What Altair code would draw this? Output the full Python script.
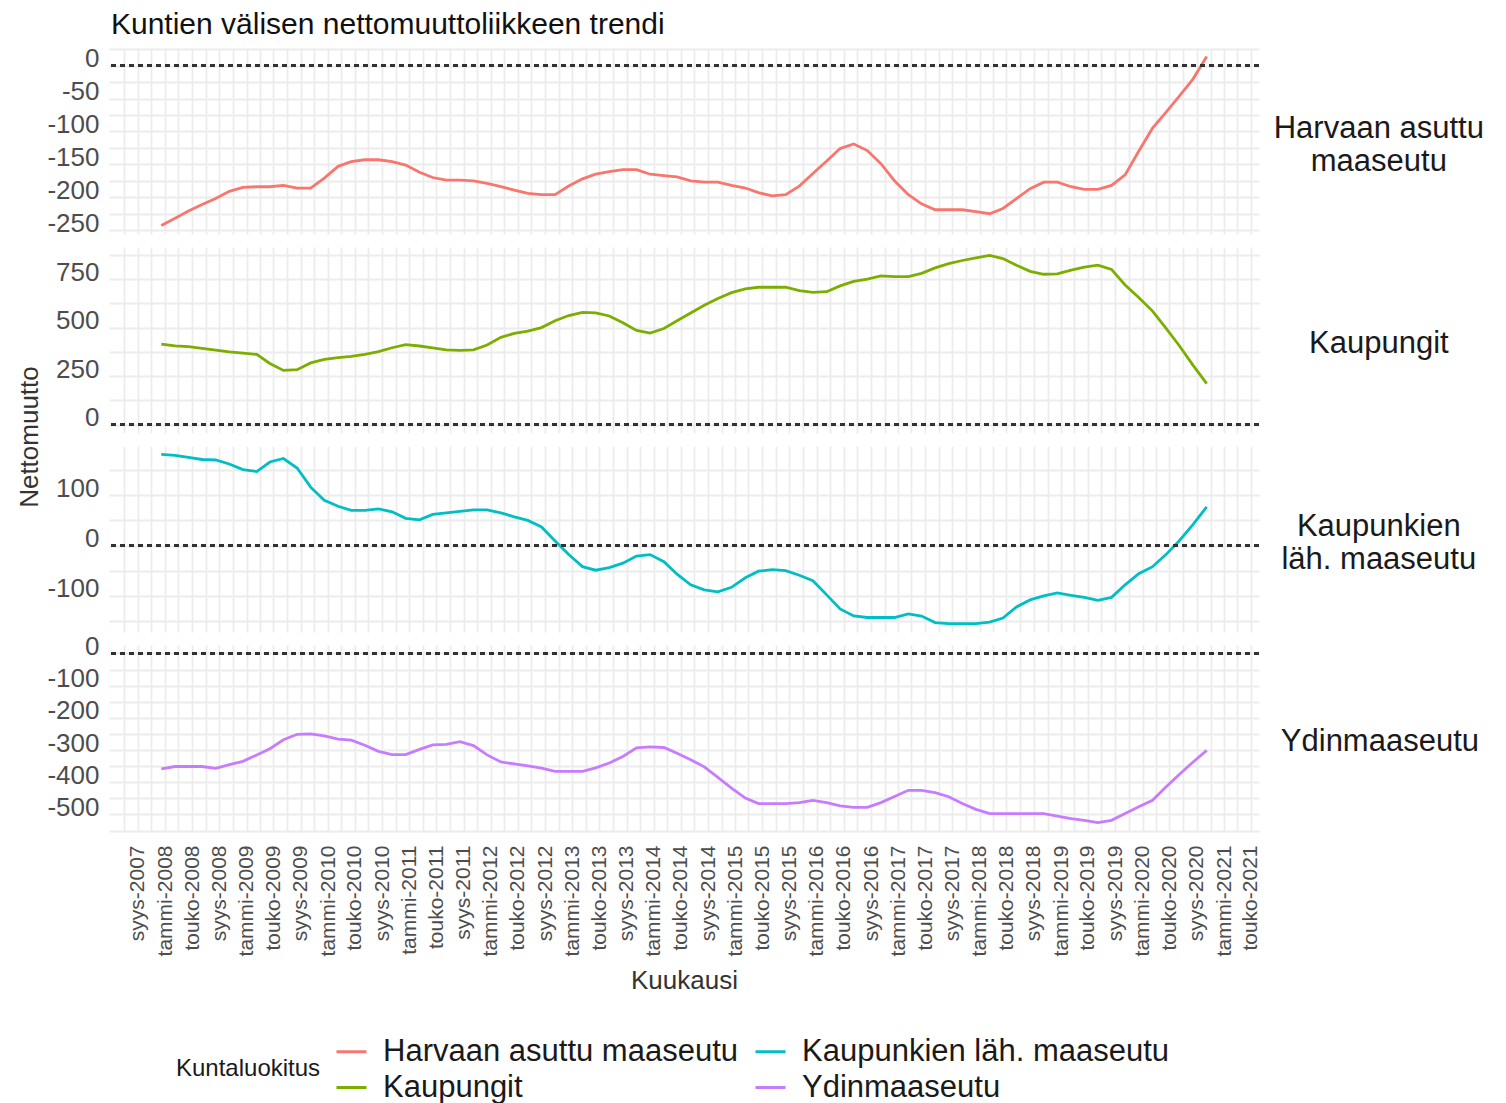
import math
import altair as alt
import pandas as pd

# ---------------- data ----------------
months = pd.date_range("2007-12-15", periods=78, freq=pd.DateOffset(months=2))
kuukausi = [d.strftime("%Y-%m-%d") for d in months]

categories = ["Harvaan asuttu maaseutu", "Kaupungit", "Kaupunkien läh. maaseutu", "Ydinmaaseutu"]
colors = ["#F8766D", "#7CAE00", "#00BFC4", "#C77CFF"]

harvaan = [-243, -232, -221, -211, -202, -191, -185, -184, -184, -182,
           -186, -186, -171, -153, -146, -143, -143, -146, -151, -162,
           -170, -174, -174, -175, -179, -184, -189, -194, -196, -196,
           -183, -172, -165, -161, -158, -158, -165, -167, -169, -175,
           -177, -177, -182, -186, -193, -198, -196, -183, -164, -145,
           -126, -119, -129, -149, -175, -196, -210, -219, -219, -219,
           -222, -225, -217, -202, -187, -177, -177, -184, -188, -188,
           -182, -166, -130, -95, -71, -46, -20, 14]
kaupungit = [415, 406, 402, 393, 384, 375, 368, 362, 315, 279,
             283, 318, 336, 345, 352, 362, 376, 396, 412, 405,
             395, 385, 382, 385, 410, 450, 470, 482, 500, 535,
             562, 578, 576, 560, 525, 485, 472, 495, 535, 575,
             615, 650, 680, 700, 708, 708, 708, 691, 682, 685,
             715, 738, 750, 767, 763, 763, 780, 808, 830, 846,
             860, 872, 856, 822, 790, 775, 777, 796, 812, 822,
             800, 720, 655, 585, 497, 405, 305, 211]
kaupunkien = [181, 179, 175, 171, 170, 162, 151, 147, 166, 173,
              154, 116, 90, 78, 70, 70, 73, 67, 54, 51,
              62, 65, 68, 71, 71, 65, 57, 50, 37, 9,
              -18, -42, -49, -44, -35, -21, -18, -32, -57, -78,
              -88, -92, -83, -64, -51, -48, -50, -59, -70, -98,
              -126, -140, -143, -143, -143, -136, -140, -153, -155, -155,
              -155, -152, -144, -122, -108, -100, -94, -99, -103, -109,
              -103, -78, -56, -42, -18, 10, 42, 77]
ydin = [-358, -351, -351, -351, -357, -345, -335, -315, -296, -268,
        -251, -250, -256, -266, -269, -285, -304, -314, -314, -298,
        -284, -282, -274, -286, -315, -337, -343, -349, -356, -366,
        -366, -366, -355, -340, -320, -293, -290, -292, -310, -330,
        -352, -385, -418, -449, -466, -466, -466, -463, -456, -463,
        -473, -478, -478, -463, -444, -425, -425, -432, -445, -466,
        -484, -497, -497, -497, -497, -497, -505, -513, -518, -525,
        -518, -497, -476, -456, -415, -375, -337, -301]

series = {
    "Harvaan asuttu maaseutu": harvaan,
    "Kaupungit": kaupungit,
    "Kaupunkien läh. maaseutu": kaupunkien,
    "Ydinmaaseutu": ydin,
}
strip_labels = {
    "Harvaan asuttu maaseutu": ["Harvaan asuttu", "maaseutu"],
    "Kaupungit": ["Kaupungit"],
    "Kaupunkien läh. maaseutu": ["Kaupunkien", "läh. maaseutu"],
    "Ydinmaaseutu": ["Ydinmaaseutu"],
}
major_steps = {
    "Harvaan asuttu maaseutu": 50,
    "Kaupungit": 250,
    "Kaupunkien läh. maaseutu": 100,
    "Ydinmaaseutu": 100,
}
fi_months = ["tammi", "helmi", "maalis", "huhti", "touko", "kesä",
             "heinä", "elo", "syys", "loka", "marras", "joulu"]

# ---------------- layout helpers ----------------
# Arial / Liberation Sans advance widths (per 1000 em) for strip text width
AW = {"H": 722, "a": 556, "r": 333, "v": 500, "n": 556, " ": 278, "s": 500, "u": 556,
      "t": 278, "m": 833, "e": 556, "K": 667, "p": 556, "g": 556, "i": 222, "k": 500,
      "l": 222, "ä": 556, "h": 556, ".": 278, "Y": 667, "d": 556}


def text_width(s, size):
    return sum(AW.get(c, 556) for c in s) * size / 1000.0


def ms(ts):
    return int(pd.Timestamp(ts).value // 10**6)


t0, t1 = months[0], months[-1]
span = t1 - t0
x_domain = [ms(t0 - span * 0.05), ms(t1 + span * 0.05)]
x_ticks = [ms(d) for d in pd.date_range("2007-07-01", "2021-05-01", freq="2MS")]

month_arr = "[" + ",".join("'%s'" % m for m in fi_months) + "]"
x_label_expr = ("utcmonth(datum.value) % 4 == 0 ? " + month_arr +
                "[utcmonth(datum.value)] + '-' + utcyear(datum.value) : ''")

GRID = "#ececec"
GW = 1.8
W, H = 1150, 186
FONT = "Liberation Sans"
STRIP_SIZE = 31
STRIP_CENTER = 119   # distance from panel right edge to label centre
STRIP_LH = 33

color_enc = alt.Color(
    "Kuntaluokitus:N",
    scale=alt.Scale(domain=categories, range=colors),
    legend=alt.Legend(
        title="Kuntaluokitus", orient="none", legendX=67, legendY=987,
        columns=2, titleOrient="left", titleAnchor="middle", titleBaseline="middle",
        titleFontSize=24, titleFontWeight="normal", titleColor="#1a1a1a", titlePadding=14,
        labelFontSize=31, labelColor="#1a1a1a", labelLimit=0, labelOffset=15,
        symbolType="stroke", symbolSize=900, symbolStrokeWidth=3,
        columnPadding=11, rowPadding=4,
    ),
)


def make_panel(cat, last):
    vals = series[cat]
    df = pd.DataFrame({"Kuukausi": kuukausi, "Nettomuutto": vals, "Kuntaluokitus": cat})
    lo, hi = min(min(vals), 0), max(max(vals), 0)
    pad = 0.05 * (hi - lo)
    y_domain = [lo - pad, hi + pad]
    step = major_steps[cat]
    half = step // 2
    y_ticks = [k * half for k in range(math.ceil(y_domain[0] / half), math.floor(y_domain[1] / half) + 1)]

    y_axis = alt.Axis(
        values=y_ticks, tickCount=200,
        labelExpr="datum.value %% %d == 0 ? '' + datum.value : ''" % step,
        labelFontSize={"condition": {"test": "datum.value %% %d != 0" % step, "value": 0}, "value": 26},
        labelOverlap=False, labelBound=False, labelFlush=False,
        domain=False, ticks=False, grid=True, gridColor=GRID, gridWidth=GW,
        labelColor="#4d4d4d", labelPadding=10, labelOffset=-7,
        title=None,
    )
    if last:
        x_axis = alt.Axis(
            values=x_ticks, labelExpr=x_label_expr, labelAngle=270, labelOverlap=False,
            labelFontSize=21, labelColor="#4d4d4d", labelPadding=14,
            domain=False, ticks=False, grid=True, gridColor=GRID, gridWidth=GW,
            title="Kuukausi", titleFontSize=26, titleFontWeight="normal",
            titleColor="#333333", titlePadding=12,
        )
    else:
        x_axis = alt.Axis(
            values=x_ticks, labels=False, domain=False, ticks=False,
            grid=True, gridColor=GRID, gridWidth=GW, title=None,
        )

    line = alt.Chart(df).mark_line(strokeWidth=2.8).encode(
        x=alt.X("Kuukausi:T", scale=alt.Scale(domain=x_domain, nice=False), axis=x_axis),
        y=alt.Y("Nettomuutto:Q", scale=alt.Scale(domain=y_domain, nice=False, zero=False), axis=y_axis),
        color=color_enc,
    )
    rule = alt.Chart(df).mark_rule(strokeDash=[5, 4], color="#333333", strokeWidth=1.6).encode(
        y=alt.datum(0)
    )

    lines = strip_labels[cat]
    w = max(text_width(s, STRIP_SIZE) for s in lines)
    strip = alt.TitleParams(
        text=lines, orient="right", anchor="middle", angle=0,
        align="center", baseline="middle", fontSize=STRIP_SIZE, fontWeight="normal",
        color="#1a1a1a", offset=STRIP_CENTER - w, lineHeight=STRIP_LH, font=FONT,
        dy=4 - (len(lines) - 1) * STRIP_LH / 2,
    )
    return alt.layer(line, rule).properties(width=W, height=H, title=strip)


panels = [make_panel(c, i == len(categories) - 1) for i, c in enumerate(categories)]

inner = alt.vconcat(*panels, spacing=13, bounds="flush").resolve_scale(y="independent").properties(
    title=alt.TitleParams("Nettomuutto", orient="left", anchor="middle", fontSize=26,
                          fontWeight="normal", color="#333333", offset=4, dx=81, font=FONT)
)

chart = alt.vconcat(inner).properties(
    title=alt.TitleParams("Kuntien välisen nettomuuttoliikkeen trendi", anchor="start",
                          fontSize=30, fontWeight="normal", color="#111111", dx=94,
                          offset=2, font=FONT),
    padding={"left": 8, "right": 0, "top": 2, "bottom": 5},
).configure(font=FONT).configure_view(strokeWidth=0)

chart.save("out.html", embed_options={"renderer": "svg", "actions": False})
